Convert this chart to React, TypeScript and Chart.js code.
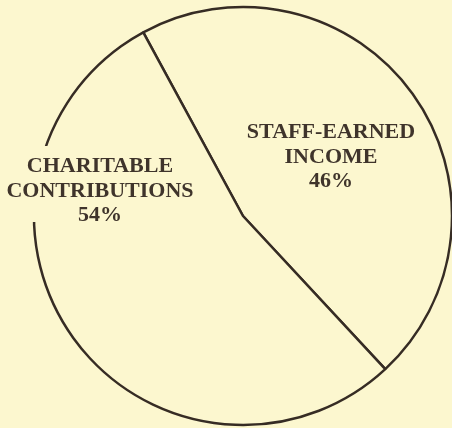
import React, { useEffect, useRef } from "react";
import { Chart, registerables } from "chart.js";

Chart.register(...registerables);

const categories = ["STAFF-EARNED INCOME", "CHARITABLE CONTRIBUTIONS"];
const labelLines = [
  ["STAFF-EARNED", "INCOME"],
  ["CHARITABLE", "CONTRIBUTIONS"],
];
const shares = [46, 54];

const BG = "#fcf7cf";
const INK = "#362c24";
const TEXT = "#3f342b";

// label anchor offsets relative to the pie centre (x, first baseline)
const labelOffsets = [
  { dx: 88, dy: -78 },
  { dx: -143, dy: -44 },
];

const labelPlugin = {
  id: "pieLabels",
  afterDatasetsDraw(chart: any) {
    const ctx = chart.ctx;
    const arc = chart.getDatasetMeta(0).data[0];
    if (!arc) return;
    const cx = arc.x;
    const cy = arc.y;
    ctx.save();
    // gap in the outline behind the left label (as in the original print)
    ctx.fillStyle = BG;
    ctx.fillRect(cx - 222, cy - 70, 34, 76);
    ctx.fillStyle = TEXT;
    ctx.font = "bold 22px 'Liberation Serif', 'DejaVu Serif', serif";
    ctx.textAlign = "center";
    ctx.textBaseline = "alphabetic";
    const lineH = 24.5;
    shares.forEach((v, i) => {
      const off = labelOffsets[i];
      const lines = [...labelLines[i], `${v}%`];
      lines.forEach((t, j) => {
        ctx.fillText(t, cx + off.dx, cy + off.dy + j * lineH);
      });
    });
    ctx.restore();
  },
};

export default function App() {
  const ref = useRef<HTMLCanvasElement | null>(null);
  useEffect(() => {
    if (!ref.current) return;
    const chart = new Chart(ref.current, {
      type: "pie",
      data: {
        labels: categories,
        datasets: [
          {
            data: shares,
            backgroundColor: BG,
            borderColor: INK,
            borderWidth: 2.5,
            hoverOffset: 0,
          },
        ],
      },
      options: {
        responsive: false,
        animation: false,
        rotation: -28.5,
        radius: 209,
        layout: { padding: { left: 34, right: 0, top: 4, bottom: 0 } },
        plugins: {
          legend: { display: false },
          tooltip: { enabled: false },
        },
      },
      plugins: [labelPlugin],
    });
    return () => chart.destroy();
  }, []);
  return (
    <div
      style={{
        position: "fixed",
        left: 0,
        top: 0,
        width: 452,
        height: 428,
        background: BG,
      }}
    >
      <canvas ref={ref} width={452} height={428} />
    </div>
  );
}
